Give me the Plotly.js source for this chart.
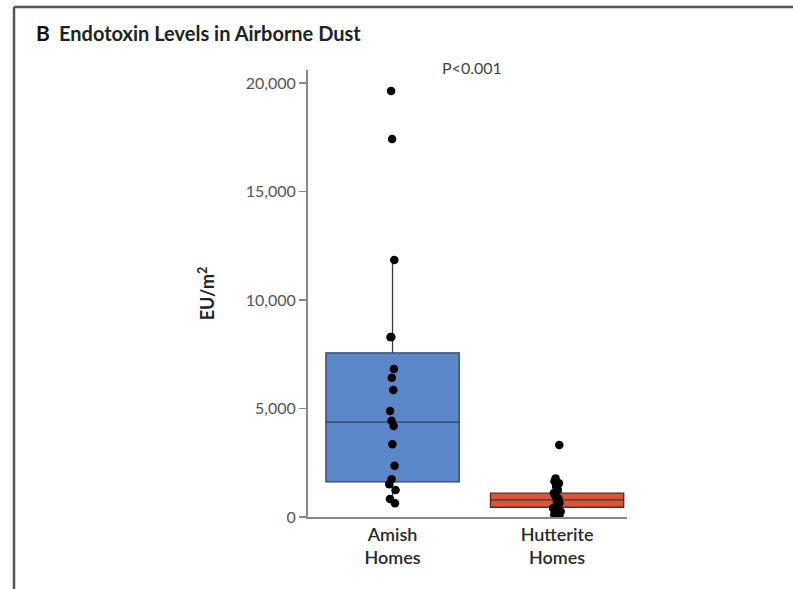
<!DOCTYPE html>
<html>
<head>
<meta charset="utf-8">
<script src="https://cdn.plot.ly/plotly-3.0.1.min.js"></script>
<style>html,body{margin:0;padding:0;background:#fff;}#chart{width:793px;height:589px;}</style>
</head>
<body>
<div id="chart"></div>
<script>
// Categories
const categories = ['Amish<br>Homes', 'Hutterite<br>Homes'];

// Box statistics (EU/m2)
const q1Values     = [1620, 450];
const medianValues = [4370, 790];
const q3Values     = [7560, 1100];
const lowerFences  = [630, 40];
const upperFences  = [11840, 1780];

// Individual home measurements (EU/m2)
const amishPoints = [19630, 17420, 11840, 8300, 8290, 6820, 6420, 5850, 4890, 4440, 4190, 3350, 2360, 1740, 1510, 1240, 830, 630];
const hutteritePoints = [3320, 1780, 1650, 1550, 1400, 1250, 1100, 950, 850, 750, 650, 500, 400, 250, 120, 40];

const boxColors = ['#5b87c9', '#d9563a'];
const boxLines = ['#2b3f5e', '#5a2a1e'];

const traces = [];
for (let i = 0; i < categories.length; i++) {
  traces.push({
    type: 'box',
    x: [categories[i]],
    q1: [q1Values[i]],
    median: [medianValues[i]],
    q3: [q3Values[i]],
    lowerfence: [lowerFences[i]],
    upperfence: [upperFences[i]],
    fillcolor: boxColors[i],
    line: {color: boxLines[i], width: 1.3},
    whiskerwidth: 0,
    width: 0.81,
    boxpoints: false,
    hoverinfo: 'skip'
  });
}
const pointSets = [amishPoints, hutteritePoints];
for (let i = 0; i < categories.length; i++) {
  traces.push({
    type: 'box',
    x: pointSets[i].map(() => categories[i]),
    y: pointSets[i],
    boxpoints: 'all',
    jitter: 0.07,
    pointpos: 0,
    width: 0.81,
    whiskerwidth: 0,
    fillcolor: 'rgba(0,0,0,0)',
    line: {color: 'rgba(0,0,0,0)', width: 0},
    marker: {color: '#000', size: 8.5},
    hoverinfo: 'y'
  });
}

const layout = {
  width: 793, height: 589,
  margin: {l: 308, r: 166, t: 70, b: 72},
  paper_bgcolor: '#fff', plot_bgcolor: '#fff',
  showlegend: false,
  boxmode: 'overlay',
  font: {family: 'Lato, "Open Sans", sans-serif', color: '#444'},
  xaxis: {
    type: 'category',
    range: [-0.514, 1.425],
    showgrid: false, zeroline: false,
    showline: true, linecolor: '#888', linewidth: 2,
    ticks: '',
    tickfont: {size: 18, color: '#2a2a2a', family: 'Lato, sans-serif', weight: 600},
    fixedrange: true
  },
  yaxis: {
    range: [0, 20600],
    tickvals: [0, 5000, 10000, 15000, 20000],
    tickformat: ',d',
    showgrid: false, zeroline: false,
    showline: true, linecolor: '#888', linewidth: 2,
    ticks: 'outside', ticklen: 7, tickwidth: 1.5, tickcolor: '#888',
    tickfont: {size: 16, color: '#555'},
    title: {text: '<b>EU/m<sup>2</sup></b>', font: {size: 18, color: '#222'}, standoff: 26},
    fixedrange: true
  },
  annotations: [
    {xref: 'paper', yref: 'paper', x: -0.858, y: 1.083, xanchor: 'left', yanchor: 'middle',
     text: '<b>B</b>', showarrow: false, font: {size: 21, color: '#111', family: 'Lato, sans-serif'}},
    {xref: 'paper', yref: 'paper', x: -0.786, y: 1.083, xanchor: 'left', yanchor: 'middle',
     text: '<b>Endotoxin Levels in Airborne Dust</b>', showarrow: false, font: {size: 20, color: '#222', family: 'Lato, sans-serif'}},
    {xref: 'paper', yref: 'paper', x: 0.515, y: 1.005, xanchor: 'center', yanchor: 'middle',
     text: 'P<0.001', showarrow: false, font: {size: 16, color: '#444'}}
  ],
  shapes: [
    {type: 'line', xref: 'paper', yref: 'paper', x0: -0.9216, x1: 1.53, y0: 1.1409, y1: 1.1409,
     line: {color: '#555', width: 2.5}},
    {type: 'line', xref: 'paper', yref: 'paper', x0: -0.9216, x1: -0.9216, y0: 1.1409, y1: -0.2,
     line: {color: '#555', width: 2.5}}
  ]
};

Plotly.newPlot('chart', traces, layout, {displayModeBar: false, staticPlot: true});
</script>
</body>
</html>
